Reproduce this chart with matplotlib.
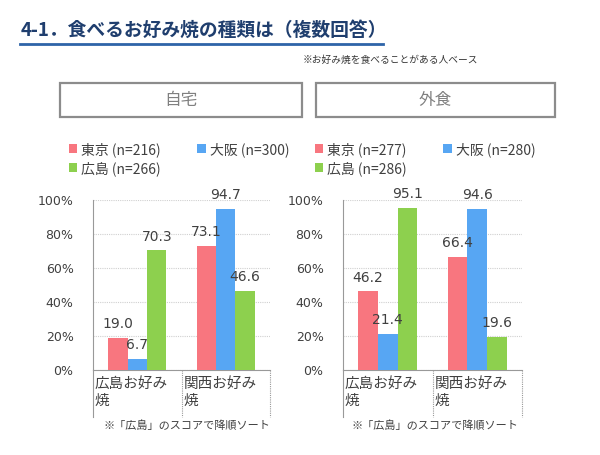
import matplotlib
matplotlib.use("Agg")
import matplotlib.pyplot as plt
from matplotlib.patches import Rectangle
import numpy as np

plt.rcParams['font.family'] = ['Noto Sans CJK JP', 'DejaVu Sans']

# ---- data ----
title = "4-1．食べるお好み焼の種類は（複数回答）"
note = "※お好み焼を食べることがある人ベース"
panels = ["自宅", "外食"]
categories = ["広島お好み\n焼", "関西お好み\n焼"]
series = ["東京", "大阪", "広島"]
n_home = [216, 300, 266]
n_out = [277, 280, 286]
home_vals = {"東京": [19.0, 73.1], "大阪": [6.7, 94.7], "広島": [70.3, 46.6]}
out_vals = {"東京": [46.2, 66.4], "大阪": [21.4, 94.6], "広島": [95.1, 19.6]}
yticks = [0, 20, 40, 60, 80, 100]
footnote = "※「広島」のスコアで降順ソート"

colors = {"東京": "#F8767F", "大阪": "#57A6F3", "広島": "#8DD04E"}

W, H = 600, 455
fig = plt.figure(figsize=(W / 100, H / 100), dpi=100)
fig.patch.set_facecolor("white")

def fx(px):
    return px / W

def fy(py):
    return 1 - py / H

# Title
fig.text(fx(21), fy(30), title, fontsize=13.5, fontweight="bold", color="#1F3E6E",
         va="center", ha="left")
fig.add_artist(plt.Line2D([fx(20), fx(383)], [fy(44), fy(44)], color="#2E64A8", lw=2))
fig.text(fx(478), fy(60), note, fontsize=7, color="#333333", va="center", ha="right")

# panel header boxes
for (x0, x1), lab in zip([(60, 302), (316, 555)], panels):
    fig.add_artist(Rectangle((fx(x0), fy(117)), fx(x1 - x0), (117 - 83) / H,
                             transform=fig.transFigure, fill=False,
                             edgecolor="#8C8C8C", lw=1.6))
    fig.text(fx((x0 + x1) / 2), fy(100), lab, fontsize=12, color="#808080",
             ha="center", va="center")

axes_specs = [
    dict(x0=93, x1=270, vals=home_vals, ns=n_home, leg_x=62, foot_x=187),
    dict(x0=343, x1=522, vals=out_vals, ns=n_out, leg_x=308, foot_x=435),
]
ytop, ybot = 200, 370
width = 0.22
offsets = [-width, 0, width]
x = np.arange(len(categories))

for spec in axes_specs:
    ax = fig.add_axes([fx(spec["x0"]), fy(ybot), fx(spec["x1"] - spec["x0"]),
                       (ybot - ytop) / H])
    handles = []
    for s, off in zip(series, offsets):
        vals = spec["vals"][s]
        b = ax.bar(x + off, vals, width=width, color=colors[s], zorder=3)
        handles.append(b)
        for xi, v in zip(x + off, vals):
            ax.annotate(f"{v:.1f}", (xi, v), xytext=(0, 10), textcoords="offset points",
                        ha="center", va="center", fontsize=10, color="#404040",
                        family="DejaVu Sans", annotation_clip=False, zorder=4)
    ax.set_xlim(-0.5, 1.5)
    ax.set_ylim(0, 100)
    ax.set_yticks(yticks)
    ax.set_yticklabels([f"{t}%" for t in yticks], fontsize=9, color="#404040",
                       family="DejaVu Sans")
    ax.set_xticks([])
    ax.tick_params(axis="y", length=0, pad=14)
    for sp in ["top", "right"]:
        ax.spines[sp].set_visible(False)
    ax.spines["left"].set_color("#999999")
    ax.spines["bottom"].set_color("#999999")
    ax.grid(axis="y", color="#D0D0D0", lw=0.8, ls=(0, (1, 1)), zorder=0)
    ax.set_facecolor("none")

    # category cells below the axis
    ylow = -(417 - ybot) / (ybot - ytop)
    for xv in [0, 0.5, 1.0]:
        ax.plot([xv, xv], [0, ylow], transform=ax.transAxes, color="#999999",
                lw=0.8, clip_on=False, ls="-" if xv == 0 else (0, (1, 1)))
    for i, cat in enumerate(categories):
        ax.text(i * 0.5 + 0.01, -0.04, cat, transform=ax.transAxes, ha="left",
                va="top", fontsize=10.5, color="#404040", linespacing=1.3)
    fig.text(fx(spec["foot_x"]), fy(426), footnote, fontsize=8, color="#404040",
             ha="center", va="center")

    # legend (row-major order: 東京, 大阪 / 広島)
    labels = [f"{s} (n={n})" for s, n in zip(series, spec["ns"])]
    order = [0, 2, 1]
    fig.legend([handles[i] for i in order], [labels[i] for i in order],
               loc="upper left",
               bbox_to_anchor=(fx(spec["leg_x"]), fy(135)), ncol=2, frameon=False,
               fontsize=10, handlelength=0.6, handleheight=0.6, handletextpad=0.3,
               columnspacing=2.6, labelspacing=0.3, borderpad=0,
               labelcolor="#404040")

fig.savefig("out.png", dpi=100, facecolor="white")
